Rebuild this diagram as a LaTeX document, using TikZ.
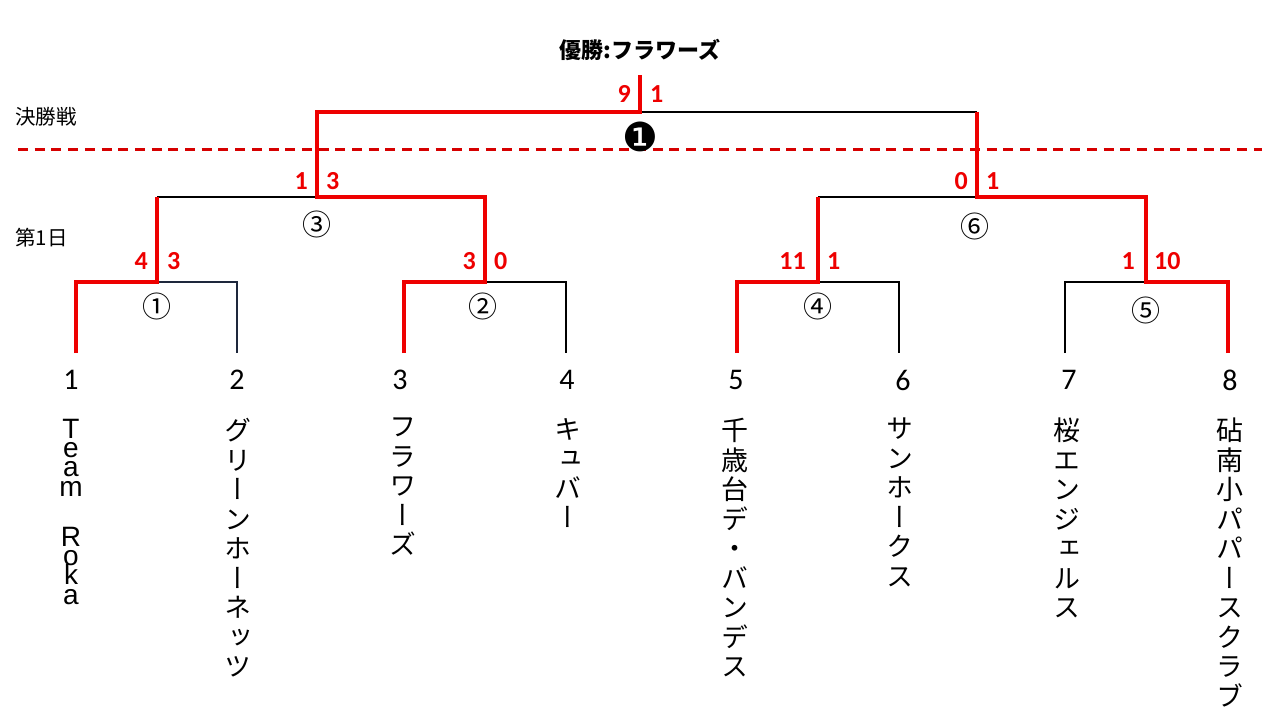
\documentclass[tikz,border=0pt]{standalone}
\usepackage{fontspec}
\usepackage{graphicx}
\setmainfont{Liberation Sans}
\newfontfamily\jp{Noto Sans CJK JP}
\newfontfamily\jpv[RawFeature={+vert}]{Noto Sans CJK JP}
\newfontfamily\dv{DejaVu Sans}
\newfontfamily\cb{Carlito}
\definecolor{wred}{RGB}{238,0,0}
\definecolor{navy}{RGB}{30,40,60}
\lineskiplimit=-100pt
\begin{document}
\begin{tikzpicture}[x=1pt,y=-1pt,
  win/.style={draw=wred,line width=3.4pt},
  lose/.style={draw=black,line width=2.6pt},
  sep/.style={draw=wred!90!black,line width=3pt,dash pattern=on 10pt off 6.7pt},
  score/.style={text=wred,font=\cb\bfseries\fontsize{26}{26}\selectfont,inner sep=0pt},
  seed/.style={font=\cb\fontsize{30}{30}\selectfont,inner sep=0pt},
  circ/.style={font=\jp\fontsize{29}{29}\selectfont,inner sep=0pt},
  lbl/.style={font=\jp\fontsize{20.5}{20.5}\selectfont,inner sep=0pt,anchor=west},
  vname/.style={font=\jpv\fontsize{27}{29.5}\selectfont,align=center,inner sep=0pt,anchor=north},
  vlatin/.style={font=\fontsize{28}{19.2}\selectfont,align=center,inner sep=0pt,anchor=north}]
\useasboundingbox[fill=white] (0,0) rectangle (1280,720);

% coordinates
\coordinate (L1) at (76,353);
\coordinate (L2) at (237,353);
\coordinate (L3) at (404,353);
\coordinate (L4) at (566,353);
\coordinate (L5) at (737,353);
\coordinate (L6) at (899,353);
\coordinate (L7) at (1065,353);
\coordinate (L8) at (1228,353);
\coordinate (M1) at (157,282);
\coordinate (M2) at (485,282);
\coordinate (M4) at (818,282);
\coordinate (M5) at (1146,282);
\coordinate (M3) at (317,197);
\coordinate (M6) at (977,197);
\coordinate (F) at (640,112);
\coordinate (Top) at (640,75);

% separator
\coordinate (SL) at (18,149);
\coordinate (SR) at (1262,149);
\draw[sep] (SL) -- (SR);

% losing (black) lines
\draw[lose,draw=navy] (M1) -| (L2);
\draw[lose] (M1 |- M3) -- (M3);
\draw[lose] (M2) -| (L4);
\draw[lose] (M4) -| (L6);
\draw[lose] (M4 |- M6) -- (M6);
\draw[lose] (L7) |- (M5);
\draw[lose] (F) -- (M6 |- F);

% winning (red) lines
\draw[win] (L1) |- (M1) -- (M1 |- M3);
\draw[win] (L3) |- (M2) -- (M2 |- M3) -- (M3) -- (M3 |- F) -- (F) -- (Top);
\draw[win] (L5) |- (M4) -- (M4 |- M6);
\draw[win] (L8) |- (M5) -- (M5 |- M6) -- (M6) -- (M6 |- F);

% scores
\node[score,anchor=east] (sF1) at (631,94) {9};
\node[score,anchor=west] (sF2) at (650,94) {1};
\node[score,anchor=east] (s31) at (308,181) {1};
\node[score,anchor=west] (s32) at (326,181) {3};
\node[score,anchor=east] (s61) at (968,181) {0};
\node[score,anchor=west] (s62) at (986,181) {1};
\node[score,anchor=east] (s11) at (148,261) {4};
\node[score,anchor=west] (s12) at (167,261) {3};
\node[score,anchor=east] (s21) at (476,261) {3};
\node[score,anchor=west] (s22) at (494,261) {0};
\node[score,anchor=east] (s41) at (806,261) {11};
\node[score,anchor=west] (s42) at (827,261) {1};
\node[score,anchor=east] (s51) at (1135,261) {1};
\node[score,anchor=west] (s52) at (1154,261) {10};

% match numbers
\node[font=\dv\fontsize{40}{40}\selectfont,inner sep=0pt] (mF) at (640,137) {❶};
\node[circ] (m1) at (157,306) {①};
\node[circ] (m2) at (483,306) {②};
\node[circ] (m3) at (317,224) {③};
\node[circ] (m4) at (818,306) {④};
\node[circ] (m5) at (1146,310) {⑤};
\node[circ] (m6) at (975,226) {⑥};

% title and round labels
\node[font=\jp\bfseries\fontsize{22}{22}\selectfont,inner sep=0pt] (title) at (640,50) {優勝:フラワーズ};
\node[lbl] (r2) at (15,117) {決勝戦};
\node[lbl] (r1) at (15,238) {第1日};

% seeds
\node[seed] (n1) at (71,380) {1};
\node[seed] (n2) at (237,380) {2};
\node[seed] (n3) at (400,380) {3};
\node[seed] (n4) at (567,380) {4};
\node[seed] (n5) at (736,380) {5};
\node[seed] (n6) at (903,380) {6};
\node[seed] (n7) at (1069,380) {7};
\node[seed] (n8) at (1230,380) {8};

% team names
\node[vlatin] (t1a) at (71,419) {T\\e\\a\\m};
\node[vlatin] (t1b) at (71,527) {R\\o\\k\\a};
\node[vname] (t2) at (238,418) {グ\\リ\\ー\\ン\\ホ\\ー\\ネ\\ッ\\ツ};
\node[vname] (t3) at (403,418) {フ\\ラ\\ワ\\ー\\ズ};
\node[vname] (t4) at (568,418) {キ\\ュ\\バ\\ー};
\node[vname] (t5) at (735,418) {千\\歳\\台\\デ\\・\\バ\\ン\\デ\\ス};
\node[vname] (t6) at (900,418) {サ\\ン\\ホ\\ー\\ク\\ス};
\node[vname] (t7) at (1067,418) {桜\\エ\\ン\\ジ\\ェ\\ル\\ス};
\node[vname] (t8) at (1230,418) {砧\\南\\小\\パ\\パ\\ー\\ス\\ク\\ラ\\ブ};
\end{tikzpicture}
\end{document}
